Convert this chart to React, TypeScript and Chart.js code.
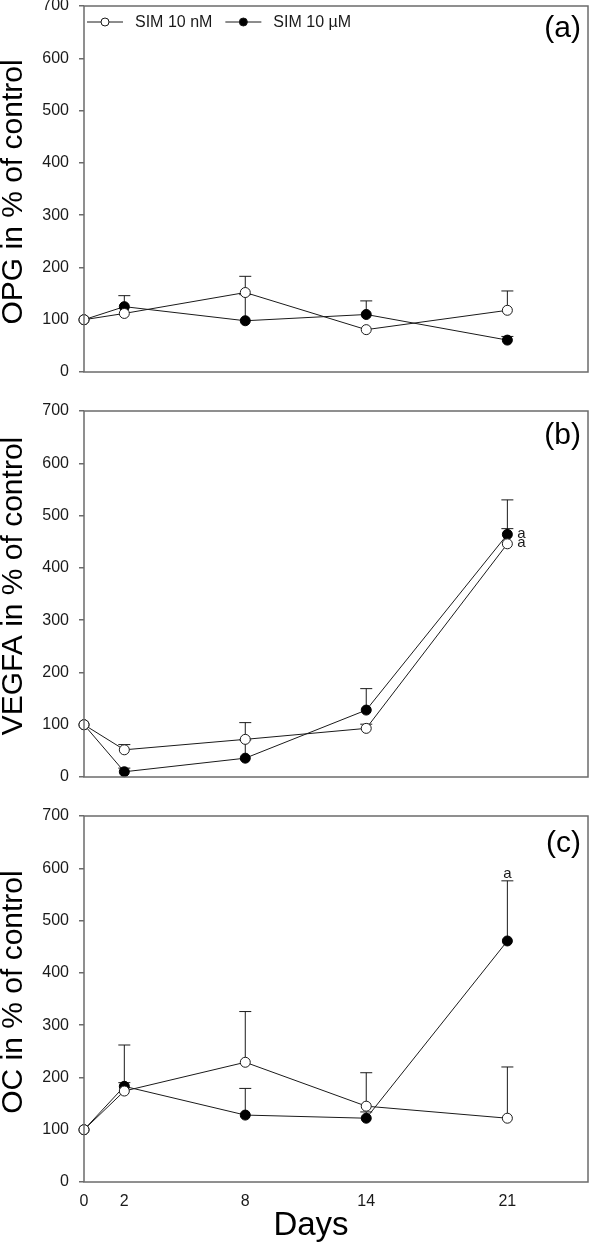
import React, { useEffect, useRef } from "react";
import Chart from "chart.js/auto";

// ---- data ----
const days = [0, 2, 8, 14, 21];
const xTickValues = [0, 2, 8, 14, 21];
const yMax = 700;
const yStep = 100;
const xMax = 25;
const seriesNames = ["SIM 10 nM", "SIM 10 µM"];

const opgNM = [100, 112, 152, 81, 118];
const opgNMErr = [0, 0, 31, 0, 37];
const opgUM = [100, 125, 98, 110, 61];
const opgUMErr = [0, 21, 50, 26, 7];

const vegfaNM = [100, 52, 72, 93, 446];
const vegfaNMErr = [0, 10, 32, 8, 29];
const vegfaUM = [100, 10, 36, 128, 464];
const vegfaUMErr = [0, 7, 35, 41, 66];

const ocNM = [100, 174, 229, 145, 122];
const ocNMErr = [0, 88, 97, 64, 98];
const ocUM = [100, 183, 128, 122, 461];
const ocUMErr = [0, 7, 51, 12, 115];

const panelLabels = ["(a)", "(b)", "(c)"];
const yTitles = ["OPG in % of control", "VEGFA in % of control", "OC in % of control"];
const xTitle = "Days";
// significance marks: panel, series, point index, text, placement
const sigMarks = [
  { panel: 1, series: 1, index: 4, text: "a", place: "right" },
  { panel: 1, series: 0, index: 4, text: "a", place: "right" },
  { panel: 2, series: 1, index: 4, text: "a", place: "above" },
];

const panelSeries = [
  [opgNM, opgNMErr, opgUM, opgUMErr],
  [vegfaNM, vegfaNMErr, vegfaUM, vegfaUMErr],
  [ocNM, ocNMErr, ocUM, ocUMErr],
];

// ---- layout / style ----
const FONT = '"Liberation Sans", Arial, Helvetica, sans-serif';
const INK = "#1a1a1a";
const AXIS = "#6b6b6b";
const W = 594;
const panels = [
  { top: 0, height: 405, padTop: 6, xH: 33, showX: false, titleShift: 3, labelY: 23, daysY: 0 },
  { top: 393, height: 416, padTop: 18, xH: 32, showX: false, titleShift: -8, labelY: 25, daysY: 0 },
  { top: 797, height: 449, padTop: 19, xH: 64, showX: true, titleShift: -7, labelY: 28, daysY: 438 },
];

function makePlugin(p: number) {
  return {
    id: "panelDeco" + p,
    beforeDatasetsDraw(chart: any) {
      const ctx = chart.ctx;
      const xs = chart.scales.x;
      const ys = chart.scales.y;
      ctx.save();
      ctx.strokeStyle = INK;
      ctx.lineWidth = 1;
      chart.data.datasets.forEach((ds: any) => {
        ds.data.forEach((pt: any, i: number) => {
          const e = ds.errors[i];
          if (!e) return;
          const x = xs.getPixelForValue(pt.x);
          const y0 = ys.getPixelForValue(pt.y);
          const y1 = ys.getPixelForValue(pt.y + e);
          ctx.beginPath();
          ctx.moveTo(x, y0);
          ctx.lineTo(x, y1);
          ctx.moveTo(x - 6, y1);
          ctx.lineTo(x + 6, y1);
          ctx.stroke();
        });
      });
      ctx.restore();
    },
    afterDraw(chart: any) {
      const ctx = chart.ctx;
      const { left, right, top, bottom } = chart.chartArea;
      const xs = chart.scales.x;
      const ys = chart.scales.y;
      const cfg = panels[p];
      ctx.save();
      // frame
      ctx.strokeStyle = AXIS;
      ctx.lineWidth = 1.5;
      ctx.strokeRect(left, top, right - left, bottom - top);
      // y title
      ctx.fillStyle = "#000";
      ctx.save();
      ctx.translate(22, (top + bottom) / 2 + cfg.titleShift);
      ctx.rotate(-Math.PI / 2);
      ctx.font = "30px " + FONT;
      ctx.textAlign = "center";
      ctx.textBaseline = "alphabetic";
      ctx.fillText(yTitles[p], 0, 0);
      ctx.restore();
      // panel label
      ctx.font = "30px " + FONT;
      ctx.textAlign = "right";
      ctx.textBaseline = "middle";
      ctx.fillText(panelLabels[p], right - 7, top + cfg.labelY);
      // legend
      if (p === 0) {
        ctx.font = "16px " + FONT;
        ctx.textBaseline = "middle";
        ctx.textAlign = "left";
        const ly = top + 16;
        let lx = left + 3;
        chart.data.datasets.forEach((ds: any, di: number) => {
          ctx.strokeStyle = INK;
          ctx.lineWidth = 1;
          ctx.beginPath();
          ctx.moveTo(lx, ly);
          ctx.lineTo(lx + 36, ly);
          ctx.stroke();
          ctx.beginPath();
          ctx.arc(lx + 18, ly, 4, 0, Math.PI * 2);
          ctx.fillStyle = di === 0 ? "#fff" : "#000";
          ctx.fill();
          ctx.stroke();
          ctx.fillStyle = INK;
          ctx.fillText(seriesNames[di], lx + 48, ly + 1);
          lx = lx + 48 + ctx.measureText(seriesNames[di]).width + 13;
        });
      }
      // significance marks
      ctx.fillStyle = INK;
      ctx.font = "15px " + FONT;
      sigMarks
        .filter((m) => m.panel === p)
        .forEach((m) => {
          const ds: any = chart.data.datasets[m.series];
          const pt = ds.data[m.index];
          const x = xs.getPixelForValue(pt.x);
          if (m.place === "right") {
            ctx.textAlign = "left";
            ctx.textBaseline = "middle";
            ctx.fillText(m.text, x + 10, ys.getPixelForValue(pt.y) - 1);
          } else {
            ctx.textAlign = "center";
            ctx.textBaseline = "alphabetic";
            ctx.fillText(m.text, x, ys.getPixelForValue(pt.y + ds.errors[m.index]) - 3);
          }
        });
      // x title
      if (cfg.showX) {
        ctx.fillStyle = "#000";
        ctx.font = "33px " + FONT;
        ctx.textAlign = "center";
        ctx.textBaseline = "alphabetic";
        ctx.fillText(xTitle, 311, cfg.daysY);
      }
      ctx.restore();
    },
  };
}

function Panel({ p }: { p: number }) {
  const ref = useRef<HTMLCanvasElement>(null);
  useEffect(() => {
    const cfg = panels[p];
    const [nm, nmErr, um, umErr] = panelSeries[p];
    const chart = new Chart(ref.current as HTMLCanvasElement, {
      type: "line",
      data: {
        datasets: [
          {
            label: seriesNames[0],
            data: days.map((d, i) => ({ x: d, y: nm[i] })),
            errors: nmErr,
            borderColor: INK,
            borderWidth: 1,
            pointRadius: 5,
            pointBorderWidth: 1,
            pointBackgroundColor: "#fff",
            pointBorderColor: INK,
            clip: false,
          } as any,
          {
            label: seriesNames[1],
            data: days.map((d, i) => ({ x: d, y: um[i] })),
            errors: umErr,
            borderColor: INK,
            borderWidth: 1,
            pointRadius: 5,
            pointBorderWidth: 1,
            pointBackgroundColor: "#000",
            pointBorderColor: "#000",
            clip: false,
          } as any,
        ],
      },
      options: {
        animation: false,
        responsive: false,
        devicePixelRatio: 1,
        events: [],
        layout: { padding: { left: 0, right: 5, top: cfg.padTop, bottom: 0 } },
        plugins: { legend: { display: false }, tooltip: { enabled: false } },
        scales: {
          x: {
            type: "linear",
            min: 0,
            max: xMax,
            border: { display: false },
            grid: { display: false, drawTicks: false },
            ticks: {
              display: cfg.showX,
              padding: 10,
              color: INK,
              font: { size: 16, family: FONT },
            },
            afterBuildTicks: (scale: any) => {
              scale.ticks = xTickValues.map((v) => ({ value: v }));
            },
            afterFit: (scale: any) => {
              scale.height = cfg.xH;
              scale.paddingLeft = 0;
              scale.paddingRight = 0;
            },
          },
          y: {
            min: 0,
            max: yMax,
            border: { display: false },
            grid: {
              drawOnChartArea: false,
              drawTicks: true,
              tickLength: 5,
              color: AXIS,
              lineWidth: 1.5,
            },
            ticks: {
              stepSize: yStep,
              padding: 10,
              color: INK,
              font: { size: 16, family: FONT },
            },
            afterFit: (scale: any) => {
              scale.width = 84;
              scale.paddingTop = 0;
              scale.paddingBottom = 0;
            },
          },
        },
      } as any,
      plugins: [makePlugin(p)],
    });
    return () => chart.destroy();
  }, [p]);
  const cfg = panels[p];
  return (
    <canvas
      ref={ref}
      width={W}
      height={cfg.height}
      style={{ position: "absolute", left: 0, top: cfg.top, width: W, height: cfg.height, display: "block" }}
    />
  );
}

export default function App() {
  return (
    <div style={{ position: "absolute", left: 0, top: 0, width: W, height: 1246, background: "#fff" }}>
      <Panel p={0} />
      <Panel p={1} />
      <Panel p={2} />
    </div>
  );
}
